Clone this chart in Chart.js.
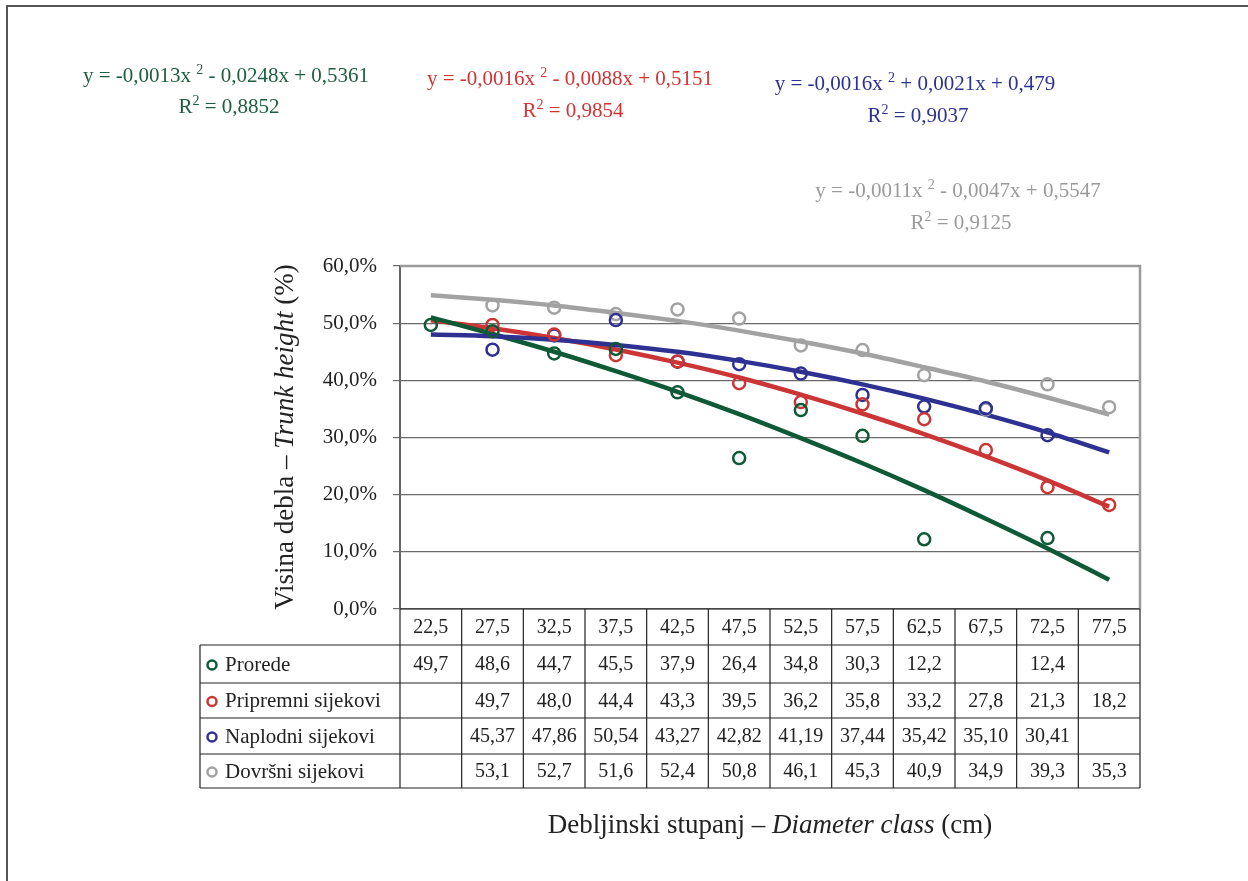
<!DOCTYPE html>
<html>
<head>
<meta charset="utf-8">
<script src="https://cdn.jsdelivr.net/npm/chart.js@4.4.1/dist/chart.umd.min.js"></script>
<style>
  body { margin: 0; background: #fff; }
  #heightChart { display: block; }
</style>
</head>
<body>
<canvas id="heightChart" width="1248" height="881"></canvas>
<script>
// Diameter classes (cm)
const diameterClasses = ['22,5', '27,5', '32,5', '37,5', '42,5', '47,5', '52,5', '57,5', '62,5', '67,5', '72,5', '77,5'];

// Trunk height share (%) per felling type
const prorede = [49.7, 48.6, 44.7, 45.5, 37.9, 26.4, 34.8, 30.3, 12.2, null, 12.4, null];
const pripremni = [null, 49.7, 48.0, 44.4, 43.3, 39.5, 36.2, 35.8, 33.2, 27.8, 21.3, 18.2];
const naplodni = [null, 45.37, 47.86, 50.54, 43.27, 42.82, 41.19, 37.44, 35.42, 35.10, 30.41, null];
const dovrsni = [null, 53.1, 52.7, 51.6, 52.4, 50.8, 46.1, 45.3, 40.9, 34.9, 39.3, 35.3];

// Polynomial trend lines as drawn in the picture (%)
const proredeTrend = [51.0, 48.1, 45.0, 41.6, 38.0, 34.1, 29.9, 25.5, 20.8, 15.8, 10.6, 5.1];
const pripremniTrend = [50.5, 49.1, 47.4, 45.4, 43.1, 40.5, 37.5, 34.2, 30.6, 26.7, 22.5, 17.9];
const naplodniTrend = [48.0, 47.7, 47.1, 46.2, 45.0, 43.4, 41.5, 39.3, 36.8, 34.0, 30.9, 27.4];
const dovrsniTrend = [54.9, 54.1, 53.1, 51.8, 50.4, 48.7, 46.8, 44.7, 42.3, 39.8, 37.0, 34.0];

const seriesNames = ['Prorede', 'Pripremni sijekovi', 'Naplodni sijekovi', 'Dovršni sijekovi'];
const seriesDecimals = [1, 1, 2, 1];

// Trend equations: [before sup, after sup], R² value
const equations = [
  ['y = -0,0013x ', ' - 0,0248x + 0,5361', ' = 0,8852'],
  ['y = -0,0016x ', ' - 0,0088x + 0,5151', ' = 0,9854'],
  ['y = -0,0016x ', ' + 0,0021x + 0,479', ' = 0,9037'],
  ['y = -0,0011x ', ' - 0,0047x + 0,5547', ' = 0,9125']
];

const yTicks = [0, 10, 20, 30, 40, 50, 60];

const green = '#0f5a36';
const red = '#cc3535';
const blue = '#2e3192';
const grey = '#a2a2a2';
const colors = [green, red, blue, grey];
const eqColors = ['#1d5e40', '#d03434', '#2d3192', '#9a9a9a'];

const serif = '"Liberation Serif", "DejaVu Serif", serif';

function pointSet(label, data, color) {
  return {
    label: label,
    data: data,
    showLine: false,
    borderColor: color,
    backgroundColor: 'rgba(255,255,255,0)',
    pointRadius: 6,
    pointBorderWidth: 2.5,
    pointStyle: 'circle',
    order: 0
  };
}

function trendSet(label, data, color) {
  return {
    label: label,
    data: data,
    borderColor: color,
    borderWidth: 4.5,
    pointRadius: 0,
    fill: false,
    cubicInterpolationMode: 'monotone',
    order: 1
  };
}

// text with a superscript "2" in the middle
function supText(ctx, parts, cx, y, size) {
  ctx.font = size + 'px ' + serif;
  const w1 = ctx.measureText(parts[0]).width;
  const w3 = ctx.measureText(parts[1]).width;
  ctx.font = Math.round(size * 0.68) + 'px ' + serif;
  const w2 = ctx.measureText('2').width;
  let x = cx - (w1 + w2 + w3) / 2;
  ctx.textAlign = 'left';
  ctx.textBaseline = 'alphabetic';
  ctx.font = size + 'px ' + serif;
  ctx.fillText(parts[0], x, y);
  ctx.font = Math.round(size * 0.68) + 'px ' + serif;
  ctx.fillText('2', x + w1, y - size * 0.4);
  ctx.font = size + 'px ' + serif;
  ctx.fillText(parts[1], x + w1 + w2, y);
}

// mixed normal/italic string, centered
function mixedText(ctx, pieces, size) {
  let total = 0;
  pieces.forEach(p => {
    ctx.font = (p[1] ? 'italic ' : '') + size + 'px ' + serif;
    total += ctx.measureText(p[0]).width;
  });
  let x = -total / 2;
  ctx.textAlign = 'left';
  pieces.forEach(p => {
    ctx.font = (p[1] ? 'italic ' : '') + size + 'px ' + serif;
    ctx.fillText(p[0], x, 0);
    x += ctx.measureText(p[0]).width;
  });
}

const extrasPlugin = {
  id: 'extras',
  afterDraw(chart) {
    const ctx = chart.ctx;
    const area = chart.chartArea;
    const xs = chart.scales.x;
    const colW = (area.right - area.left) / diameterClasses.length;
    ctx.save();

    // page frame
    ctx.strokeStyle = '#555';
    ctx.lineWidth = 2;
    ctx.beginPath();
    ctx.moveTo(7, 881);
    ctx.lineTo(7, 6);
    ctx.lineTo(1248, 6);
    ctx.stroke();

    // plot frame: grey top and right
    ctx.strokeStyle = '#9a9a9a';
    ctx.lineWidth = 2.5;
    ctx.beginPath();
    ctx.moveTo(area.left, area.top);
    ctx.lineTo(area.right, area.top);
    ctx.lineTo(area.right, area.bottom);
    ctx.stroke();

    // data table
    const rowTop = area.bottom;
    const rowH = [36, 38, 35, 36, 34];
    const rowY = [rowTop];
    rowH.forEach(h => rowY.push(rowY[rowY.length - 1] + h));
    const legendLeft = 200;
    ctx.strokeStyle = '#222';
    ctx.lineWidth = 1.2;
    ctx.beginPath();
    ctx.moveTo(area.left, rowTop);
    ctx.lineTo(area.right, rowTop);
    for (let r = 1; r < rowY.length; r++) {
      ctx.moveTo(legendLeft, rowY[r]);
      ctx.lineTo(area.right, rowY[r]);
    }
    for (let c = 0; c <= diameterClasses.length; c++) {
      const x = area.left + c * colW;
      ctx.moveTo(x, rowTop);
      ctx.lineTo(x, rowY[rowY.length - 1]);
    }
    ctx.moveTo(legendLeft, rowY[1]);
    ctx.lineTo(legendLeft, rowY[rowY.length - 1]);
    ctx.stroke();

    ctx.fillStyle = '#222';
    ctx.font = '20px ' + serif;
    ctx.textAlign = 'center';
    ctx.textBaseline = 'middle';
    diameterClasses.forEach((lab, i) => {
      ctx.fillText(lab, xs.getPixelForValue(i), (rowY[0] + rowY[1]) / 2 + 1);
    });
    const allData = [prorede, pripremni, naplodni, dovrsni];
    allData.forEach((arr, s) => {
      const cy = (rowY[s + 1] + rowY[s + 2]) / 2 + 1;
      ctx.font = '20px ' + serif;
      arr.forEach((v, i) => {
        if (v === null) return;
        ctx.textAlign = 'center';
        ctx.fillText(v.toFixed(seriesDecimals[s]).replace('.', ','), xs.getPixelForValue(i), cy);
      });
      // legend key
      ctx.beginPath();
      ctx.strokeStyle = colors[s];
      ctx.lineWidth = 2.5;
      ctx.arc(212, cy, 4.5, 0, Math.PI * 2);
      ctx.stroke();
      ctx.textAlign = 'left';
      ctx.font = '21px ' + serif;
      ctx.fillText(seriesNames[s], 225, cy);
    });

    // axis titles
    ctx.fillStyle = '#222';
    ctx.textBaseline = 'middle';
    ctx.save();
    ctx.translate(286, 437);
    ctx.rotate(-Math.PI / 2);
    mixedText(ctx, [['Visina debla \u2013 ', false], ['Trunk height', true], [' (%)', false]], 27);
    ctx.restore();
    ctx.save();
    ctx.translate(770, 826);
    mixedText(ctx, [['Debljinski stupanj \u2013 ', false], ['Diameter class', true], [' (cm)', false]], 27);
    ctx.restore();

    // trend equations
    const eqPos = [[226, 82, 113], [570, 85, 117], [915, 90, 122], [958, 197, 229]];
    equations.forEach((eq, i) => {
      ctx.fillStyle = eqColors[i];
      supText(ctx, [eq[0], eq[1]], eqPos[i][0], eqPos[i][1], 21);
      supText(ctx, ['R', eq[2]], eqPos[i][0] + 3, eqPos[i][2], 21);
    });
    ctx.restore();
  }
};

const ctx = document.getElementById('heightChart').getContext('2d');
const heightChart = new Chart(ctx, {
  type: 'line',
  data: {
    labels: diameterClasses,
    datasets: [
      pointSet(seriesNames[0], prorede, green),
      pointSet(seriesNames[1], pripremni, red),
      pointSet(seriesNames[2], naplodni, blue),
      pointSet(seriesNames[3], dovrsni, grey),
      trendSet('Trend ' + seriesNames[3], dovrsniTrend, grey),
      trendSet('Trend ' + seriesNames[2], naplodniTrend, blue),
      trendSet('Trend ' + seriesNames[0], proredeTrend, green),
      trendSet('Trend ' + seriesNames[1], pripremniTrend, red)
    ]
  },
  options: {
    responsive: false,
    animation: false,
    layout: {
      padding: { left: 0, top: 266, right: 108, bottom: 272 }
    },
    plugins: {
      legend: { display: false },
      tooltip: { enabled: false }
    },
    scales: {
      x: {
        type: 'category',
        offset: true,
        display: false
      },
      y: {
        min: 0,
        max: 60,
        afterFit: s => { s.width = 400; },
        afterBuildTicks: s => { s.ticks = yTicks.map(v => ({ value: v })); },
        ticks: {
          padding: 16,
          color: '#222',
          font: { family: serif, size: 21 },
          callback: v => v.toFixed(1).replace('.', ',') + '%'
        },
        grid: {
          color: '#6a6a6a',
          lineWidth: 1.2,
          tickLength: 7
        },
        border: {
          color: '#666',
          width: 2
        }
      }
    }
  },
  plugins: [extrasPlugin]
});
</script>
</body>
</html>
